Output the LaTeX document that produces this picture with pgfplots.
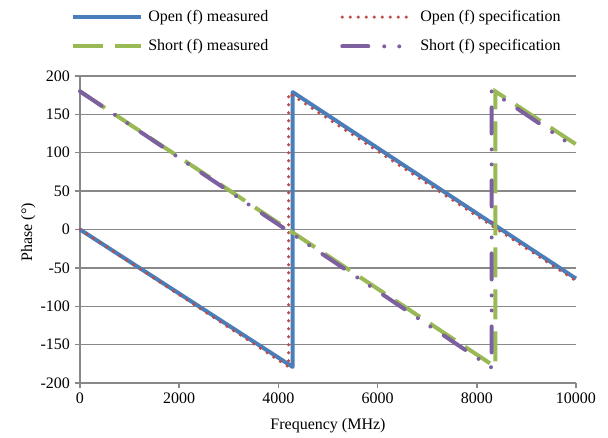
\documentclass[border=0pt]{standalone}
\usepackage{fontspec}
\setmainfont{Liberation Serif}
\usepackage{pgfplots}
\pgfplotsset{compat=1.18}
\definecolor{cblue}{HTML}{4A7EBB}
\definecolor{cred}{HTML}{BE4B48}
\definecolor{cgreen}{HTML}{98B954}
\definecolor{cpurple}{HTML}{7D60A0}
\definecolor{cgrid}{HTML}{888888}
\begin{document}
\begin{tikzpicture}[font=\fontsize{12}{14.4}\selectfont]
\useasboundingbox (-60pt,-40.5pt) rectangle (396pt,287.25pt);
\begin{axis}[
  at={(0,0)}, anchor=south west,
  scale only axis,
  width=372pt, height=230.25pt,
  xmin=0, xmax=10000, ymin=-200, ymax=200,
  xtick={0,2000,...,10000},
  ytick={-200,-150,...,200},
  scaled x ticks=false,
  /pgf/number format/assume math mode=true,
  /pgf/number format/1000 sep={},
  axis x line*=bottom, axis y line*=left,
  axis line style={cgrid, line width=1.1pt, -},
  tick style={cgrid, line width=1.1pt},
  tick align=outside,
  major tick length=4pt,
  ymajorgrids,
  grid style={cgrid, line width=1.1pt},
  xlabel={Frequency (MHz)},
  ylabel={Phase (°)},
  xlabel style={yshift=-4pt},
  ylabel style={xshift=-2pt, yshift=-3pt},
  clip=false,
  legend columns=2,
  legend style={draw=none, fill=none, inner sep=0pt, outer sep=0pt,
    at={(axis description cs:-0.0182,1.1443)}, anchor=west,
    row sep=11pt,
    nodes={inner sep=0pt, text height=8.5pt, text depth=2.5pt},
    /tikz/column 1/.style={column sep=4pt},
    /tikz/column 2/.style={column sep=54pt},
    /tikz/column 3/.style={column sep=6pt},
  },
  legend image code/.code={\draw[#1] (0pt,0pt) -- (51pt,0pt);},
]
\addplot[cblue, line width=3pt, line join=round] coordinates {(0,0) (4288,-179) (4288,179) (10000,-64)};
\addlegendentry{Open (f) measured}
\addplot[cred, line width=2.6pt, line cap=round, dash pattern=on 0pt off 6pt] coordinates {(0,0) (4206,-179) (4206,178) (10000,-67)};
\addlegendentry{Open (f) specification}
\addplot[cgreen, line width=3pt, dash pattern=on 22.5pt off 9pt] coordinates {(0,180) (8373,-179) (8373,180) (10000,111)};
\addlegendentry{Short (f) measured}
\addplot[cpurple, line width=3pt, line cap=round, dash pattern=on 19.5pt off 12pt on 0pt off 11.25pt on 0pt off 12pt] coordinates {(0,180) (8300,-180) (8300,180) (10000,106)};
\addlegendentry{Short (f) specification}
\end{axis}
\end{tikzpicture}
\end{document}
